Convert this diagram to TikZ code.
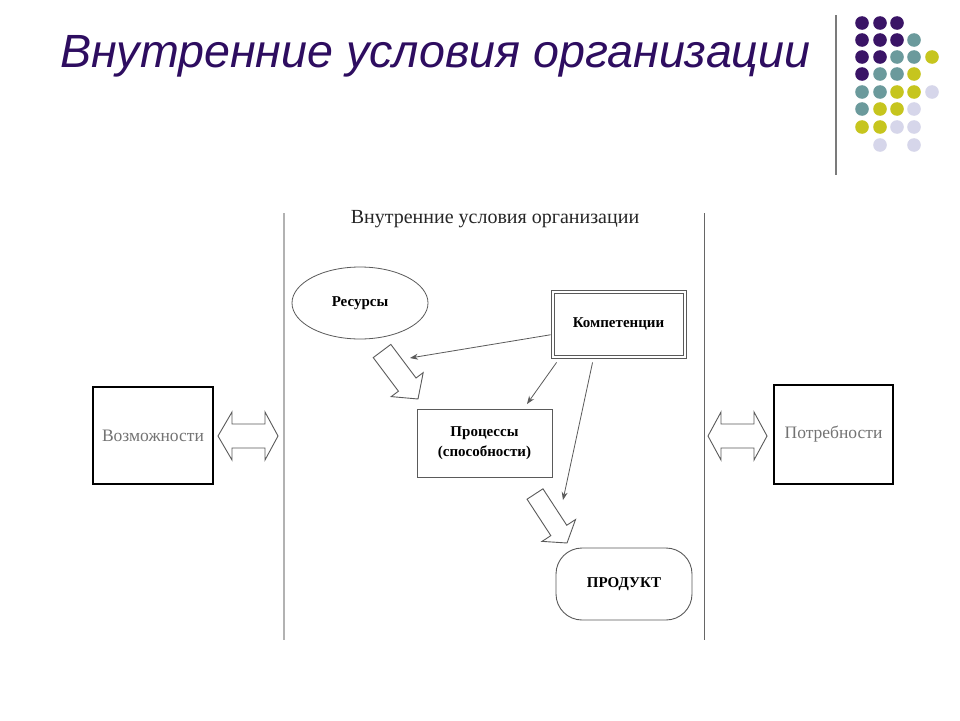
\documentclass[tikz,border=0pt]{standalone}
\usepackage{fontspec}
\setmainfont{Liberation Serif}
\newfontfamily\titlefont{Liberation Sans}
\usetikzlibrary{calc,shapes.geometric,arrows.meta}
\definecolor{dpurple}{HTML}{3A1466}
\definecolor{ttl}{HTML}{2E0D60}
\definecolor{dteal}{HTML}{6B9A9C}
\definecolor{dyel}{HTML}{C6C51E}
\definecolor{dlav}{HTML}{D6D6EA}
\definecolor{edge}{HTML}{5A5A5A}
\tikzset{
  dotP/.style={fill=dpurple},
  dotT/.style={fill=dteal},
  dotY/.style={fill=dyel},
  dotL/.style={fill=dlav},
  lbl/.style={font=\fontsize{15}{17}\selectfont\bfseries, text=black},
  outer/.style={draw=black, line width=1.6pt, font=\fontsize{17.5}{19}\selectfont, text=gray!90!black},
  conn/.style={draw=edge, line width=0.8pt, -{Stealth[length=8pt,width=6pt]}},
  blockarrow/.style={draw=edge, line width=0.9pt, fill=white, line join=miter},
}
\newcommand{\blockarr}[5]{%
  \coordinate (ba-t) at #1;
  \coordinate (ba-p) at #2;
  \coordinate (ba-h) at ($(ba-p)!#5pt!(ba-t)$);
  \draw[blockarrow] ($(ba-t)!#3pt!90:(ba-p)$) -- ($(ba-h)!#3pt!-90:(ba-t)$)
    -- ($(ba-h)!#4pt!-90:(ba-t)$) -- (ba-p) -- ($(ba-h)!#4pt!90:(ba-t)$)
    -- ($(ba-h)!#3pt!90:(ba-t)$) -- ($(ba-t)!#3pt!-90:(ba-p)$) -- cycle;
}
\begin{document}
\begin{tikzpicture}[x=1pt,y=-1pt]
\useasboundingbox[fill=white] (0,0) rectangle (960,720);
% title
\node[anchor=base west, inner sep=0, text=ttl, font=\titlefont\itshape\fontsize{46.6}{50}\selectfont] (title) at (60,67) {Внутренние условия организации};
% decorative dots
\draw[edge!80!white, line width=2pt] (836,15) -- (836,175);
\foreach \c/\x/\y in {P/862/23,P/880/23,P/897/23,
  P/862/40,P/880/40,P/897/40,T/914/40,
  P/862/57,P/880/57,T/897/57,T/914/57,Y/932/57,
  P/862/74,T/880/74,T/897/74,Y/914/74,
  T/862/92,T/880/92,Y/897/92,Y/914/92,L/932/92,
  T/862/109,Y/880/109,Y/897/109,L/914/109,
  Y/862/127,Y/880/127,L/897/127,L/914/127,
  L/880/145,L/914/145}
  \fill[dot\c] (\x,\y) circle[radius=6.8];
% frame lines
\draw[gray!60, line width=2.5pt] (284,213) -- (284,640);
\draw[gray!80!black, line width=0.9pt] (704,213) -- (704,640);
\node[font=\fontsize{20}{22}\selectfont, text=black!85] (itl) at (495,219) {Внутренние условия организации};
% nodes
\node[ellipse, draw=edge, line width=0.8pt, minimum width=136, minimum height=72, inner sep=0, lbl] (res) at (360,303) {Ресурсы};
\node[rectangle, draw=gray!70!black, line width=0.9pt, minimum width=135, minimum height=68, inner sep=0, lbl] (komp) at (618.5,324) {Компетенции};
\draw[gray!70!black, line width=0.7pt] ($(komp.north west)+(3.5,3.5)$) rectangle ($(komp.south east)+(-3.5,-3.5)$);
\node[rectangle, draw=edge, line width=0.9pt, minimum width=135, minimum height=68, inner sep=0, lbl, align=center] (proc) at (484.5,443) {Процессы\\[3pt](способности)};
\node[rectangle, rounded corners=26pt, draw=edge, line width=0.9pt, minimum width=136, minimum height=72, inner sep=0, lbl] (prod) at (624,584) {ПРОДУКТ};
\node[rectangle, outer, minimum width=120, minimum height=97, inner sep=0] (voz) at (153,435.5) {Возможности};
\node[rectangle, outer, minimum width=119, minimum height=99, inner sep=0] (potr) at (833.5,434.5) {Потребности};
% double arrows
\draw[blockarrow] (218,436) -- (232,412) -- (232,424) -- (265,424) -- (265,412) -- (278,436) -- (265,460) -- (265,448) -- (232,448) -- (232,460) -- cycle;
\draw[blockarrow] (708,436) -- (721,412) -- (721,424) -- (754,424) -- (754,412) -- (767,436) -- (754,460) -- (754,448) -- (721,448) -- (721,460) -- cycle;
% block arrows
\blockarr{(382,351)}{(418,399)}{11}{20}{18}
\blockarr{(535,494)}{(567,543)}{9.5}{20}{15}
% connectors
\coordinate (e1) at (410,358);
\coordinate (e2) at (527,404);
\coordinate (e3) at (563,500);
\draw[conn] (komp.189) -- (e1);
\draw[conn] ($(komp.south west)+(6,4)$) -- (e2);
\draw[conn] ($(komp.south west)+(42,4)$) -- (e3);
\end{tikzpicture}
\end{document}
